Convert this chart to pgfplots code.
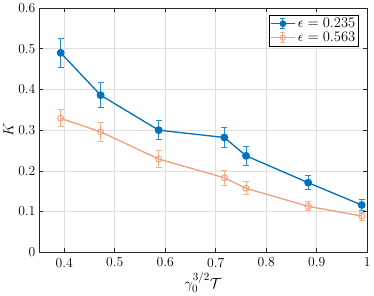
\documentclass[border=0pt]{standalone}
\usepackage{pgfplots}
\pgfplotsset{compat=1.18}
\definecolor{mblue}{RGB}{0,114,189}
\definecolor{mblueE}{RGB}{40,140,210}
\definecolor{morange}{RGB}{240,160,125}
\definecolor{morangeE}{RGB}{243,175,145}
\begin{document}
\begin{tikzpicture}
\begin{axis}[
  scale only axis, width=324pt, height=241pt,
  xmin=0.35, xmax=1, ymin=0, ymax=0.6,
  xtick={0.4,0.5,0.6,0.7,0.8,0.9,1},
  ytick={0,0.1,0.2,0.3,0.4,0.5,0.6},
  xticklabels={0.4,0.5,0.6,0.7,0.8,0.9,1},
  yticklabels={0,0.1,0.2,0.3,0.4,0.5,0.6},
  tick align=inside, major tick length=4pt,
  tick style={black!85, line width=0.6pt},
  axis line style={black!85, line width=0.6pt},
  grid=major, grid style={gray!25, line width=0.6pt},
  ticklabel style={font=\fontsize{13.5}{15}\selectfont},
  label style={font=\fontsize{15}{17}\selectfont},
  xlabel={$\gamma_0^{3/2}\mathcal{T}$},
  ylabel={$K$},
  xticklabel style={yshift=-2pt},
  xlabel style={yshift=2pt},
  ylabel style={yshift=-2pt},
  legend style={font=\fontsize{13.5}{15}\selectfont, draw=black, line width=0.6pt, inner sep=1pt, row sep=-1pt, at={(0.974,0.972)}, anchor=north east},
  legend cell align=left,
]
\addplot[mblue, line width=1.3pt, mark=*, mark size=3.2pt, mark options={solid},
  legend image code/.code={
    \draw[mblue, line width=1.3pt] (0cm,0cm) -- (0.85cm,0cm);
    \draw[mblueE, line width=0.9pt] (0.425cm,-5pt) -- (0.425cm,5pt);
    \draw[mblueE, line width=0.9pt] (0.425cm-2.5pt,-5pt) -- (0.425cm+2.5pt,-5pt);
    \draw[mblueE, line width=0.9pt] (0.425cm-2.5pt,5pt) -- (0.425cm+2.5pt,5pt);
    \fill[mblue] (0.425cm,0cm) circle (2.6pt);
  },
  error bars/.cd, y dir=both, y explicit, error bar style={mblueE, line width=0.9pt}, error mark options={rotate=90, mark size=3pt, line width=0.9pt, mblueE}]
  coordinates {
  (0.393,0.490) +- (0,0.036)
  (0.472,0.386) +- (0,0.031)
  (0.587,0.300) +- (0,0.023)
  (0.717,0.282) +- (0,0.025)
  (0.760,0.237) +- (0,0.024)
  (0.883,0.171) +- (0,0.017)
  (0.989,0.116) +- (0,0.013)
  };
\addlegendentry{$\epsilon = 0.235$}
\addplot[morange, line width=1.3pt, mark=o, mark size=3pt, mark options={solid, line width=0.9pt},
  legend image code/.code={
    \draw[morange, line width=1.3pt] (0cm,0cm) -- (0.85cm,0cm);
    \draw[morangeE, line width=0.9pt] (0.425cm,-5pt) -- (0.425cm,5pt);
    \draw[morangeE, line width=0.9pt] (0.425cm-2.5pt,-5pt) -- (0.425cm+2.5pt,-5pt);
    \draw[morangeE, line width=0.9pt] (0.425cm-2.5pt,5pt) -- (0.425cm+2.5pt,5pt);
    \draw[morange, line width=0.9pt] (0.425cm,0cm) circle (2.5pt);
  },
  error bars/.cd, y dir=both, y explicit, error bar style={morangeE, line width=0.9pt}, error mark options={rotate=90, mark size=3pt, line width=0.9pt, morangeE}]
  coordinates {
  (0.393,0.329) +- (0,0.021)
  (0.472,0.296) +- (0,0.023)
  (0.587,0.229) +- (0,0.020)
  (0.717,0.183) +- (0,0.018)
  (0.760,0.157) +- (0,0.016)
  (0.883,0.113) +- (0,0.011)
  (0.989,0.089) +- (0,0.010)
  };
\addlegendentry{$\epsilon = 0.563$}
\end{axis}
\end{tikzpicture}
\end{document}
